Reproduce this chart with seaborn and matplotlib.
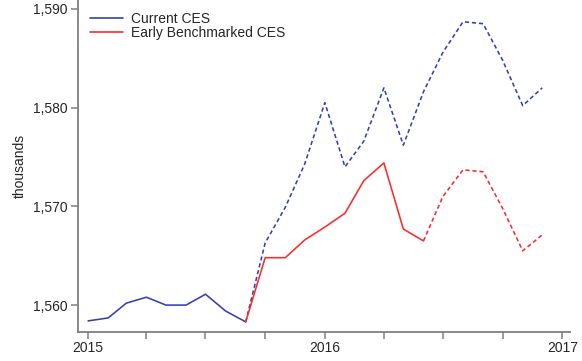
import pandas as pd
import matplotlib
matplotlib.use("Agg")
import matplotlib.pyplot as plt
import matplotlib.dates as mdates
from matplotlib.lines import Line2D
from matplotlib.ticker import FuncFormatter
import seaborn as sns

# monthly data, Jan 2015 - Dec 2016 (thousands)
months = pd.date_range("2015-01-01", "2016-12-01", freq="MS")
current_ces = [1558.4, 1558.7, 1560.2, 1560.8, 1560.0, 1560.0, 1561.1, 1559.4,
               1558.3, 1566.3, 1569.9, 1574.3, 1580.5, 1574.0, 1576.6, 1582.0,
               1576.2, 1581.6, 1585.6, 1588.7, 1588.5, 1584.8, 1580.2, 1582.0]
early_bench = [None] * 8 + [1558.3, 1564.8, 1564.8, 1566.6, 1567.9, 1569.3,
                            1572.6, 1574.4, 1567.7, 1566.5, 1571.0, 1573.7,
                            1573.5, 1569.8, 1565.5, 1567.1]
current_solid_end = 8    # last solid month index for Current CES
early_solid_end = 17     # last solid month index for Early Benchmarked CES

blue = "#3240b4"
red = "#ff2a2a"

rows = []
for i, m in enumerate(months):
    if i <= current_solid_end:
        rows.append((m, current_ces[i], "Current CES", "solid"))
    if i >= current_solid_end:
        rows.append((m, current_ces[i], "Current CES", "dashed"))
    if early_bench[i] is not None:
        if i <= early_solid_end:
            rows.append((m, early_bench[i], "Early Benchmarked CES", "solid"))
        if i >= early_solid_end:
            rows.append((m, early_bench[i], "Early Benchmarked CES", "dashed"))
df = pd.DataFrame(rows, columns=["month", "value", "series", "part"])

sns.set_style("white")
plt.rcParams["font.family"] = ["Liberation Sans", "DejaVu Sans"]

fig = plt.figure(figsize=(5.82, 3.61), dpi=100)
ax = fig.add_axes([0.1335, 0.081, 0.846, 0.919])

sns.lineplot(data=df, x="month", y="value", hue="series", style="part",
             palette={"Current CES": blue, "Early Benchmarked CES": red},
             dashes={"solid": "", "dashed": (2.6, 1.8)}, linewidth=1.15,
             legend=False, ax=ax, sort=False)

ax.set_xlim(pd.Timestamp("2014-12-16"), pd.Timestamp("2017-01-13"))
ax.set_ylim(1557.3, 1590.9)
ax.set_yticks([1560, 1570, 1580, 1590])
ax.yaxis.set_major_formatter(FuncFormatter(lambda v, p: f"{v:,.0f}"))
ax.xaxis.set_major_locator(mdates.YearLocator())
ax.xaxis.set_major_formatter(mdates.DateFormatter("%Y"))
ax.xaxis.set_minor_locator(mdates.MonthLocator(bymonth=[4, 7, 10]))

ax.set_xlabel("")
ax.set_ylabel("thousands", fontsize=10, labelpad=5)
for s in ["top", "right"]:
    ax.spines[s].set_visible(False)
for s in ["left", "bottom"]:
    ax.spines[s].set_color("#7f7f7f")
    ax.spines[s].set_linewidth(1.3)
ax.tick_params(axis="both", which="both", direction="out", length=5,
               width=1.1, color="#7f7f7f", labelsize=10, pad=2,
               left=True, bottom=True)

handles = [Line2D([], [], color=blue, lw=1.2), Line2D([], [], color=red, lw=1.2)]
ax.legend(handles, ["Current CES", "Early Benchmarked CES"], loc="upper left",
          bbox_to_anchor=(0.0, 1.0), frameon=False, fontsize=10,
          handlelength=2.4, handletextpad=0.6, labelspacing=0.0,
          borderaxespad=0.45)

fig.savefig("out.png", dpi=100)
